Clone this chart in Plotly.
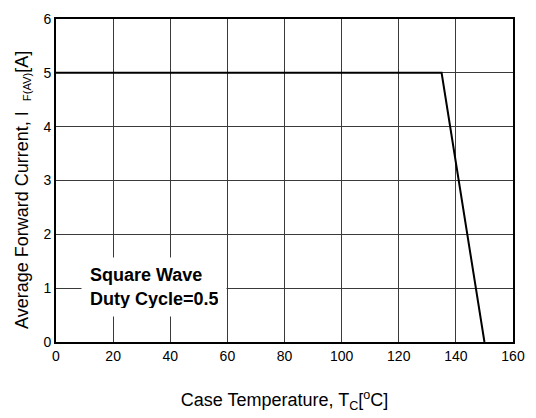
import plotly.graph_objects as go

temp_c = [0, 135, 150]
current_a = [5, 5, 0]
x_ticks = [0, 20, 40, 60, 80, 100, 120, 140, 160]
y_ticks = [0, 1, 2, 3, 4, 5, 6]

FONT = "Arial, Liberation Sans, sans-serif"

fig = go.Figure()
fig.add_trace(go.Scatter(x=temp_c, y=current_a, mode="lines",
                         line=dict(color="black", width=2), showlegend=False,
                         hoverinfo="skip"))

fig.add_annotation(x=8.9, y=1.57, xref="x", yref="y", xanchor="left", yanchor="top",
                   text="<b>Square Wave<br>Duty Cycle=0.5</b>", showarrow=False,
                   align="left", bgcolor="white", width=128, height=42, borderpad=8,
                   font=dict(family=FONT, size=18, color="black"))

# y-axis title as rotated annotation (positioned like the reference)
fig.add_annotation(x=-0.075, y=0.47, xref="paper", yref="paper",
                   xanchor="center", yanchor="middle", textangle=-90, showarrow=False,
                   text="Average Forward Current, I  <span style='font-size:16px'><sub>F(AV)</sub></span>[A]",
                   font=dict(family=FONT, size=18, color="black"))

fig.update_xaxes(range=[0, 160], tickvals=x_ticks, showgrid=True, gridcolor="#3a3a3a",
                 gridwidth=1, showline=True, linecolor="black", linewidth=2, mirror=True,
                 ticks="", zeroline=False,
                 tickfont=dict(family=FONT, size=14, color="black"),
                 title=dict(text="Case Temperature, T<sub>C</sub>[<sup>o</sup>C]",
                            font=dict(family=FONT, size=18, color="black"), standoff=31))
fig.update_yaxes(range=[0, 6], tickvals=y_ticks, showgrid=True, gridcolor="#3a3a3a",
                 gridwidth=1, showline=True, linecolor="black", linewidth=2, mirror=True,
                 ticks="", zeroline=False,
                 tickfont=dict(family=FONT, size=14, color="black"))

fig.update_layout(width=536, height=418, margin=dict(l=56, r=13, t=11, b=74),
                  plot_bgcolor="white", paper_bgcolor="white")

fig.write_html("out.html", config={"displayModeBar": False},
               post_script="document.body.style.margin='0';")
